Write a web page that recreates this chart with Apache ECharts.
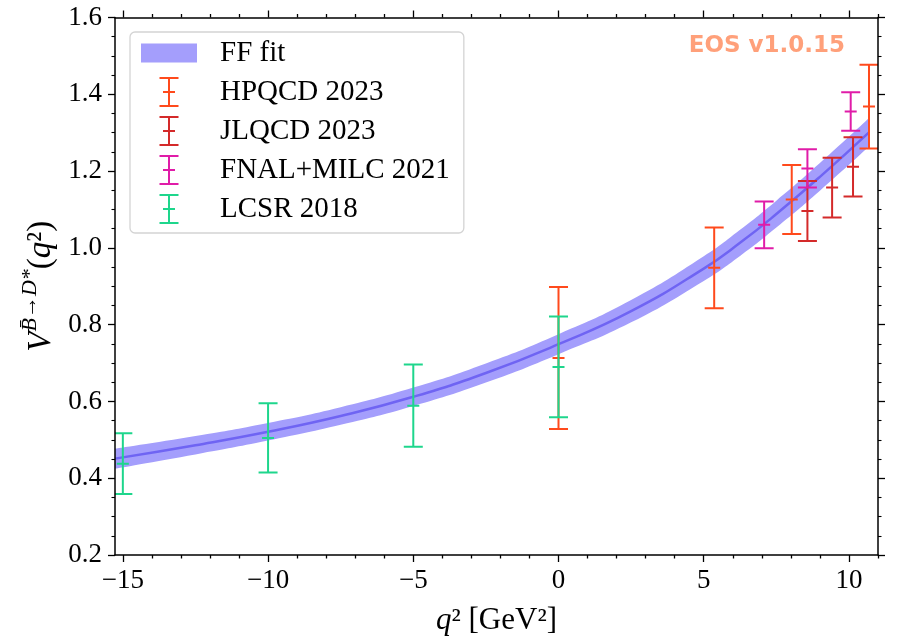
<!DOCTYPE html>
<html>
<head>
<meta charset="utf-8">
<script src="https://cdn.jsdelivr.net/npm/echarts@6/dist/echarts.min.js"></script>
<style>
  html, body { margin: 0; padding: 0; background: #fff; }
  #chart { width: 897px; height: 641px; }
</style>
</head>
<body>
<div id="chart"></div>
<script>
// Form-factor fit band V(q^2): q^2 grid (GeV^2), central curve and band edges
const fitQ2      = [-15.27, -12.5, -10, -7.5, -5, -2.5, 0, 2.5, 5, 6.25, 7.5, 9, 10.69];
const fitCentral = [0.451, 0.486, 0.521, 0.562, 0.612, 0.674, 0.749, 0.835, 0.946, 1.013, 1.088, 1.185, 1.301];
const fitLow     = [0.425, 0.462, 0.498, 0.539, 0.588, 0.649, 0.723, 0.806, 0.914, 0.979, 1.053, 1.149, 1.264];
const fitHigh    = [0.477, 0.510, 0.544, 0.585, 0.636, 0.699, 0.775, 0.864, 0.978, 1.047, 1.123, 1.221, 1.338];

// Lattice / sum-rule inputs: q^2, central value, symmetric uncertainty
const hpqcdQ2  = [0, 5.36, 8.03, 10.69];
const hpqcdV   = [0.713, 0.948, 1.126, 1.368];
const hpqcdErr = [0.185, 0.105, 0.090, 0.109];

const jlqcdQ2  = [8.57, 9.42, 10.14];
const jlqcdV   = [1.096, 1.157, 1.211];
const jlqcdErr = [0.078, 0.078, 0.077];

const fnalQ2  = [7.08, 8.57, 10.06];
const fnalV   = [1.060, 1.207, 1.355];
const fnalErr = [0.061, 0.050, 0.050];

const lcsrQ2  = [-15, -10, -5, 0];
const lcsrV   = [0.438, 0.505, 0.589, 0.690];
const lcsrErr = [0.079, 0.090, 0.107, 0.131];

// Axis ticks
const xMajorTicks = [-15, -10, -5, 0, 5, 10];
const xMinorTicks = [-14, -13, -12, -11, -9, -8, -7, -6, -4, -3, -2, -1, 1, 2, 3, 4, 6, 7, 8, 9, 11];
const yTickLabels = ['0.2', '0.4', '0.6', '0.8', '1.0', '1.2', '1.4', '1.6'];

const colors = {
  band: '#a49efc',
  central: '#6f64f3',
  hpqcd: '#ff4a1c',
  jlqcd: '#d42a2a',
  fnal: '#e01ca8',
  lcsr: '#1ed68c'
};

const serif = 'Liberation Serif';
const tickFont = { fontFamily: serif, fontSize: 27, color: '#000' };

// Legend glyphs laid out in a 74x30 box (leading moves fix the bounding box)
const bandIcon = 'path://M0,0M74,30M0,5.5h56v19h-56z';
const barIcon = 'path://M0,0M74,30M18.5,0h19v2h-19zM27,0h2v30h-2zM22,14h12v2h-12zM18.5,28h19v2h-19z';

function rows(q, v, e) {
  return q.map((x, i) => [x, v[i], e[i]]);
}

// Vertical error bar with caps and a short centre tick
function errorBar(params, api) {
  const x = api.value(0), v = api.value(1), e = api.value(2);
  const top = api.coord([x, v + e]);
  const mid = api.coord([x, v]);
  const bot = api.coord([x, v - e]);
  const cap = 9.5, tick = 6;
  const style = { stroke: api.visual('color'), lineWidth: 2, fill: null };
  const seg = (x1, y1, x2, y2) => ({ type: 'line', shape: { x1, y1, x2, y2 }, style });
  return {
    type: 'group',
    children: [
      seg(top[0], top[1], bot[0], bot[1]),
      seg(top[0] - cap, top[1], top[0] + cap, top[1]),
      seg(bot[0] - cap, bot[1], bot[0] + cap, bot[1]),
      seg(mid[0] - tick, mid[1], mid[0] + tick, mid[1])
    ]
  };
}

function errorSeries(name, color, data, z) {
  return {
    name, type: 'custom', renderItem: errorBar, data,
    itemStyle: { color }, clip: true, z,
    encode: { x: 0, y: 1 }
  };
}

const spine = { show: true, onZero: false, lineStyle: { color: '#000', width: 1.5 } };
const noSpine = { show: false, onZero: false };
const fmtX = v => (v < 0 ? '\u2212' + Math.abs(v) : String(v));

function xAxisDef(position, ticks, len, showLine, withLabels, extra) {
  return Object.assign({
    type: 'value', gridIndex: 0, position, min: -15.27, max: 11.0, z: 10,
    axisLine: showLine ? spine : noSpine,
    axisTick: { show: true, inside: false, length: len, customValues: ticks, lineStyle: { color: '#000', width: 1.3 } },
    axisLabel: withLabels
      ? Object.assign({ show: true, customValues: ticks, formatter: fmtX, margin: 12 }, tickFont)
      : { show: false },
    splitLine: { show: false }
  }, extra || {});
}

function yAxisDef(position, withLabels, extra) {
  return Object.assign({
    type: 'value', gridIndex: 0, position, min: 0.2, max: 1.6, interval: 0.2, z: 10,
    axisLine: spine,
    axisTick: { show: true, inside: false, length: 7, lineStyle: { color: '#000', width: 1.3 } },
    minorTick: { show: true, splitNumber: 4, length: 3.5, lineStyle: { color: '#000', width: 1.1 } },
    axisLabel: withLabels
      ? Object.assign({ show: true, margin: 13, formatter: v => yTickLabels[Math.round((v - 0.2) / 0.2)] }, tickFont)
      : { show: false },
    splitLine: { show: false },
    minorSplitLine: { show: false }
  }, extra || {});
}

const chart = echarts.init(document.getElementById('chart'), null, { renderer: 'canvas' });

chart.setOption({
  animation: false,
  backgroundColor: '#fff',
  grid: { left: 115, right: 19, top: 17.5, bottom: 82, containLabel: false },
  xAxis: [
    xAxisDef('bottom', xMajorTicks, 7, true, true, {
      name: '{q|q}{n|\u00b2 [GeV\u00b2]}',
      nameLocation: 'middle',
      nameGap: 50,
      nameTextStyle: {
        rich: {
          q: { fontFamily: serif, fontStyle: 'italic', fontSize: 31, color: '#000' },
          n: { fontFamily: serif, fontSize: 31, color: '#000' }
        }
      }
    }),
    xAxisDef('bottom', xMinorTicks, 3.5, false, false),
    xAxisDef('top', xMajorTicks, 7, true, false),
    xAxisDef('top', xMinorTicks, 3.5, false, false)
  ],
  yAxis: [
    yAxisDef('left', true, {
      name: '{v|V}{s|B\u0304\u2192D*}{p|(}{q|q}{p|\u00b2)}',
      nameLocation: 'middle',
      nameRotate: 90,
      nameGap: 50,
      nameTextStyle: {
        rich: {
          v: { fontFamily: serif, fontStyle: 'italic', fontSize: 33, lineHeight: 38, verticalAlign: 'bottom', color: '#000' },
          s: { fontFamily: serif, fontStyle: 'italic', fontSize: 22, lineHeight: 15, verticalAlign: 'top', color: '#000' },
          p: { fontFamily: serif, fontSize: 33, lineHeight: 38, verticalAlign: 'bottom', color: '#000' },
          q: { fontFamily: serif, fontStyle: 'italic', fontSize: 33, lineHeight: 38, verticalAlign: 'bottom', color: '#000' }
        }
      }
    }),
    yAxisDef('right', false)
  ],
  legend: {
    orient: 'vertical',
    left: 130,
    top: 32,
    padding: [6, 14, 9, 11],
    itemGap: 9,
    itemWidth: 74,
    itemHeight: 30,
    backgroundColor: '#fff',
    borderColor: '#d4d4d4',
    borderWidth: 1.3,
    borderRadius: 5,
    z: 20,
    itemStyle: { borderWidth: 0 },
    textStyle: { fontFamily: serif, fontSize: 29, color: '#000' },
    data: [
      { name: 'FF fit', icon: bandIcon, itemStyle: { color: colors.band } },
      { name: 'HPQCD 2023', icon: barIcon },
      { name: 'JLQCD 2023', icon: barIcon },
      { name: 'FNAL+MILC 2021', icon: barIcon },
      { name: 'LCSR 2018', icon: barIcon }
    ]
  },
  graphic: [
    {
      type: 'text',
      right: 52,
      top: 35,
      style: {
        text: 'EOS v1.0.15',
        font: 'bold 23px "DejaVu Sans"',
        fill: '#ffa07a'
      },
      z: 10
    }
  ],
  series: [
    // upper edge of the band, filled down to the axis floor
    {
      name: 'FF fit', type: 'line', smooth: true, symbol: 'none',
      data: fitQ2.map((x, i) => [x, fitHigh[i]]),
      lineStyle: { opacity: 0 }, itemStyle: { color: colors.band },
      areaStyle: { color: colors.band, opacity: 1, origin: 'start' }, silent: true, z: 1
    },
    // lower edge of the band, clearing the fill beneath it
    {
      name: 'fitLower', type: 'line', smooth: true, symbol: 'none',
      data: fitQ2.map((x, i) => [x, fitLow[i]]),
      lineStyle: { opacity: 0 },
      areaStyle: { color: '#ffffff', opacity: 1, origin: 'start' }, silent: true, z: 1.5
    },
    {
      name: 'fitCentral', type: 'line', smooth: true, symbol: 'none',
      data: fitQ2.map((x, i) => [x, fitCentral[i]]),
      lineStyle: { color: colors.central, width: 2.5 }, silent: true, z: 2
    },
    errorSeries('HPQCD 2023', colors.hpqcd, rows(hpqcdQ2, hpqcdV, hpqcdErr), 3),
    errorSeries('JLQCD 2023', colors.jlqcd, rows(jlqcdQ2, jlqcdV, jlqcdErr), 4),
    errorSeries('FNAL+MILC 2021', colors.fnal, rows(fnalQ2, fnalV, fnalErr), 5),
    errorSeries('LCSR 2018', colors.lcsr, rows(lcsrQ2, lcsrV, lcsrErr), 6)
  ]
});
</script>
</body>
</html>
